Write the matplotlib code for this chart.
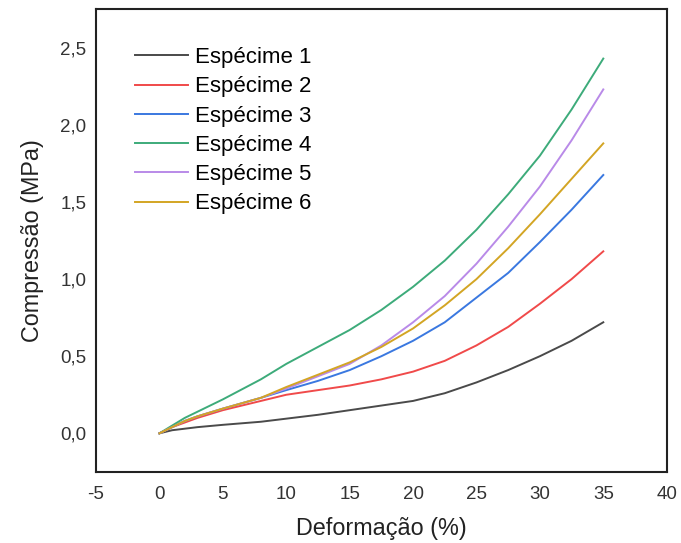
import matplotlib.pyplot as plt
from matplotlib.ticker import FuncFormatter

plt.rcParams['font.family'] = ['Liberation Sans', 'DejaVu Sans']
plt.rcParams['axes.unicode_minus'] = False

# strain (%) at which values were read
strain = [0, 1, 2, 3, 5, 8, 10, 12.5, 15, 17.5, 20, 22.5, 25, 27.5, 30, 32.5, 35]

especime_1 = [0, 0.02, 0.03, 0.04, 0.055, 0.075, 0.095, 0.12, 0.15, 0.18, 0.21, 0.26, 0.33, 0.41, 0.5, 0.6, 0.72]
especime_2 = [0, 0.04, 0.07, 0.1, 0.15, 0.21, 0.25, 0.28, 0.31, 0.35, 0.40, 0.47, 0.57, 0.69, 0.84, 1.0, 1.18]
especime_3 = [0, 0.04, 0.08, 0.11, 0.16, 0.23, 0.28, 0.34, 0.41, 0.5, 0.6, 0.72, 0.88, 1.04, 1.24, 1.45, 1.675]
especime_4 = [0, 0.05, 0.1, 0.14, 0.22, 0.35, 0.45, 0.56, 0.67, 0.8, 0.95, 1.12, 1.32, 1.55, 1.8, 2.1, 2.43]
especime_5 = [0, 0.04, 0.08, 0.11, 0.16, 0.23, 0.29, 0.37, 0.45, 0.57, 0.72, 0.89, 1.1, 1.34, 1.6, 1.9, 2.23]
especime_6 = [0, 0.04, 0.08, 0.11, 0.16, 0.23, 0.3, 0.38, 0.46, 0.56, 0.68, 0.83, 1.0, 1.2, 1.42, 1.65, 1.88]

series = [especime_1, especime_2, especime_3, especime_4, especime_5, especime_6]
labels = ['Espécime 1', 'Espécime 2', 'Espécime 3', 'Espécime 4', 'Espécime 5', 'Espécime 6']
colors = ['#4a4a4a', '#f04a4a', '#3a78e0', '#3dab7a', '#b98ae8', '#d3a524']

fig = plt.figure(figsize=(6.81, 5.43), dpi=100)
ax = fig.add_axes([0.141, 0.131, 0.838, 0.852])

for vals, lab, col in zip(series, labels, colors):
    ax.plot(strain, vals, color=col, lw=1.4, label=lab)

ax.set_xlim(-5, 40)
ax.set_ylim(-0.25, 2.75)
ax.set_xticks(range(-5, 41, 5))
ax.set_yticks([0, 0.5, 1.0, 1.5, 2.0, 2.5])
ax.yaxis.set_major_formatter(FuncFormatter(lambda v, p: f'{v:.1f}'.replace('.', ',')))
ax.tick_params(length=0, labelsize=13.5, colors='#333333')
ax.tick_params(axis='x', pad=10)
ax.tick_params(axis='y', pad=7)

for s in ax.spines.values():
    s.set_linewidth(1.5)
    s.set_color('#222222')

ax.set_xlabel('Deformação (%)', fontsize=16.8, labelpad=10, color='#222222')
ax.set_ylabel('Compressão (MPa)', fontsize=16.8, labelpad=12, color='#222222')

ax.legend(loc='upper left', bbox_to_anchor=(0.068, 0.918), frameon=False,
          borderpad=0, borderaxespad=0,
          fontsize=16, handlelength=2.4, labelspacing=0.37, handletextpad=0.3)

fig.savefig('out.png', dpi=100)
